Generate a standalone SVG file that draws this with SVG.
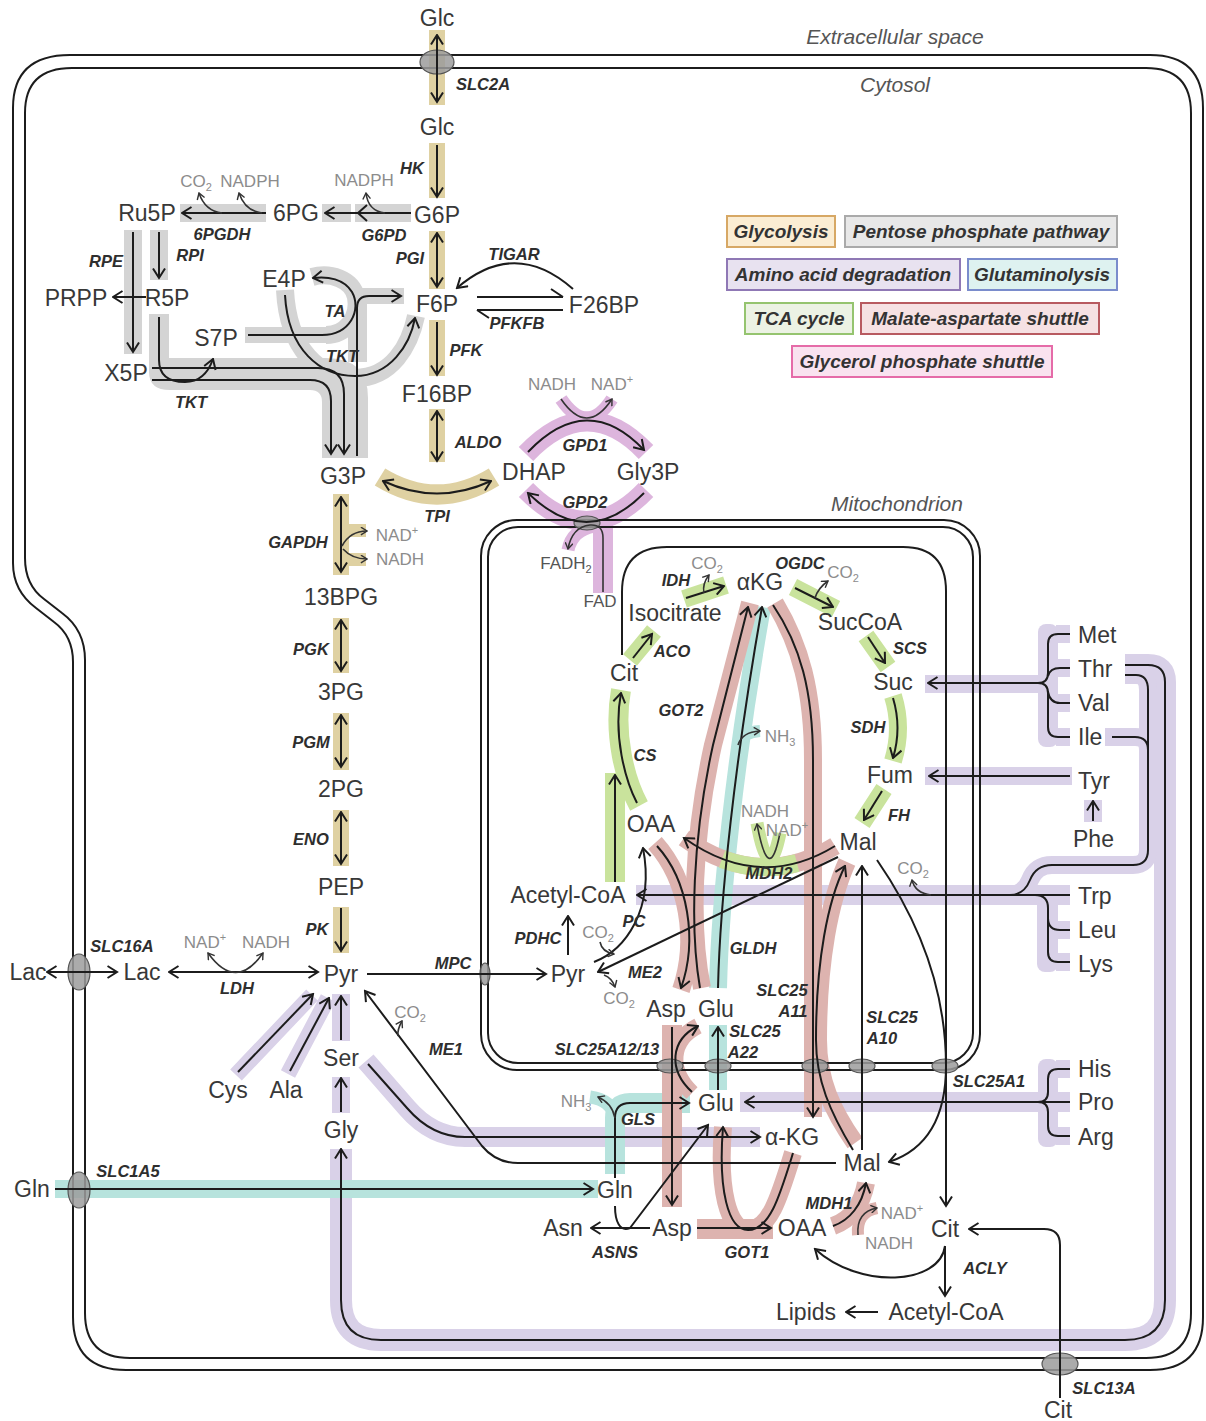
<svg xmlns="http://www.w3.org/2000/svg" width="1206" height="1421" viewBox="0 0 1206 1421">
<defs>
<style>
.m{font-family:"Liberation Sans",Arial,sans-serif;font-size:23px;fill:#383838;text-anchor:middle}
.ms{font-family:"Liberation Sans",Arial,sans-serif;font-size:23px;fill:#383838}
.e{font-family:"Liberation Sans",Arial,sans-serif;font-size:16.5px;font-weight:bold;font-style:italic;fill:#2e2e2e;text-anchor:middle}
.c{font-family:"Liberation Sans",Arial,sans-serif;font-size:17px;fill:#8c8c8c;text-anchor:middle}
.cd{fill:#555}
.l{font-family:"Liberation Sans",Arial,sans-serif;font-size:21px;font-style:italic;fill:#555;text-anchor:middle}
.k{font-family:"Liberation Sans",Arial,sans-serif;font-size:19px;font-weight:bold;font-style:italic;fill:#333;text-anchor:middle}
.sb{font-size:11px}
.ln{fill:none;stroke:#1c1c1c;stroke-width:2}
.f{marker-end:url(#ah)}
.b{marker-start:url(#ah);marker-end:url(#ah)}
.cu{fill:none;stroke:#333;stroke-width:1.6;marker-end:url(#sa)}
.cb{fill:none;stroke:#333;stroke-width:1.6;marker-start:url(#sa);marker-end:url(#sa)}
.bd{fill:none;stroke-linecap:butt;stroke-width:18}
.tan{stroke:#dfd1a2}.gry{stroke:#d4d4d4}.pur{stroke:#d9d1e8}.tea{stroke:#b7e3dd}.grn{stroke:#c9e39c}.pnk{stroke:#ddb3af}.vio{stroke:#ddb5dd}
.ftan{fill:#dfd1a2}.fgry{fill:#d4d4d4}.fpur{fill:#d9d1e8}
.mem{fill:none;stroke:#1c1c1c;stroke-width:2}
.tp{fill:#9c9c9c;fill-opacity:.85;stroke:#555;stroke-width:1.2}
</style>
<marker id="ah" viewBox="0 0 12 14" refX="10.5" refY="7" markerWidth="12" markerHeight="14" markerUnits="userSpaceOnUse" orient="auto-start-reverse">
<path d="M1,1 L10.5,7 L1,13" fill="none" stroke="#1c1c1c" stroke-width="2"/>
</marker>
<marker id="sa" viewBox="0 0 12 14" refX="10.5" refY="7" markerWidth="8" markerHeight="9" markerUnits="userSpaceOnUse" orient="auto-start-reverse">
<path d="M1,1 L10.5,7 L1,13" fill="none" stroke="#333" stroke-width="2.2"/>
</marker>
</defs>
<rect width="1206" height="1421" fill="#fff"/>

<!-- pathway highlight bands -->
<g id="bands">
<!-- glycolysis -->
<path class="bd tan" d="M437,30 V105 M437,143 V198 M437,231 V289 M437,320 V376 M437,409 V462 M341,494 V575 M341,618 V673 M341,713 V770 M341,810 V866 M341,907 V953" style="stroke-width:16"/>
<path class="bd tan" d="M380,477 Q437,512 494,477" style="stroke-width:20"/>
<rect class="ftan" x="349" y="524" width="17" height="13"/>
<rect class="ftan" x="349" y="553" width="17" height="13"/>
<!-- pentose phosphate pathway -->
<path class="bd gry" d="M180,213 H266 M322,213 H351 M355,213 H411 M133,230 V354 M159,230 V280"/>
<path class="bd gry" d="M159,314 V362" style="stroke-width:20"/>
<path class="fgry" d="M149,358 H326 Q368,358 368,398 V458 H322 V402 Q322,390 310,390 H170 Q149,390 149,372 Z"/>
<rect class="fgry" x="348" y="292" width="19" height="70"/>
<path class="bd gry" d="M245,335 H330" style="stroke-width:16"/>
<path class="bd gry" d="M312,277 C330,272 352,279 356,297 C360,318 345,335 326,335"/>
<path class="bd gry" d="M285,290 C288,350 320,378 355,378 C392,378 410,345 416,316"/>
<path class="bd gry" d="M350,296 H404" style="stroke-width:16"/>
<!-- glycerol phosphate shuttle -->
<path class="bd vio" d="M526,454 Q587,390 646,452" style="stroke-width:20"/>
<path class="bd vio" d="M561,399 Q587,437 612,399" style="stroke-width:13"/>
<path class="bd vio" d="M646,490 Q587,552 526,490" style="stroke-width:20"/>
<path class="bd vio" d="M603,593 V520" style="stroke-width:20"/>
<path class="bd vio" d="M594,526 Q572,530 568,550" style="stroke-width:13"/>
<!-- amino acid degradation -->
<path class="bd pur" d="M236,1075 L312,995 M288,1074 L328,998" style="stroke-width:16"/>
<path class="bd pur" d="M341,994 V1041 M341,1077 V1113"/>
<path class="bd pur" d="M366,1061 L407,1108 Q432,1137 465,1137 H760" style="stroke-width:20"/>
<path class="bd pur" d="M341,1149 V1300 Q341,1340 381,1340 H1125 Q1165,1340 1165,1300 V682 Q1165,665 1148,665 H1125" style="stroke-width:22"/>
<path class="bd pur" d="M1125,675 H1136 Q1148,675 1148,690 V850 Q1148,865 1133,865 H1052 Q1036,865 1030,880 Q1024,895 1010,895 M1105,737 H1135 Q1148,737 1148,750"/>
<path class="bd pur" d="M636,895 H1070 M740,1102 H1070" style="stroke-width:20"/>
<path class="bd pur" d="M925,684 H1045 M925,776 H1072"/>
<rect class="fpur" x="1038" y="624" width="20" height="123" rx="8"/>
<rect class="fpur" x="1056" y="625" width="14" height="18"/>
<rect class="fpur" x="1056" y="659" width="14" height="18"/>
<rect class="fpur" x="1056" y="694" width="14" height="18"/>
<rect class="fpur" x="1056" y="728" width="14" height="18"/>
<rect class="fpur" x="1084" y="800" width="18" height="22"/>
<rect class="fpur" x="1037" y="886" width="21" height="86" rx="8"/>
<rect class="fpur" x="1056" y="921" width="14" height="18"/>
<rect class="fpur" x="1056" y="953" width="14" height="18"/>
<rect class="fpur" x="1038" y="1059" width="20" height="88" rx="8"/>
<rect class="fpur" x="1056" y="1060" width="14" height="18"/>
<rect class="fpur" x="1056" y="1127" width="14" height="18"/>
<!-- glutaminolysis -->
<path class="bd tea" d="M55,1189 H598"/>
<path class="bd tea" d="M615,1174 V1118 Q615,1103 630,1103 H690" style="stroke-width:20"/>
<path class="bd tea" d="M615,1118 Q612,1100 590,1097" style="stroke-width:13"/>
<path class="bd tea" d="M718,1090 V1025"/>
<path class="bd tea" d="M718,988 C720,900 735,760 762,607"/>
<path class="bd tea" d="M738,745 Q742,732 760,731" style="stroke-width:12"/>
<!-- malate-aspartate shuttle -->
<path class="bd pnk" d="M702,988 C690,930 692,840 713,745 L750,603"/>
<path class="bd pnk" d="M655,843 C688,880 698,940 681,990"/>
<path class="bd pnk" d="M775,603 C800,645 813,690 813,760 V1117"/>
<path class="bd pnk" d="M855,1143 C832,1110 818,1080 818,1040 C818,960 830,900 847,862"/>
<path class="bd pnk" d="M672,1025 V1207" style="stroke-width:20"/>
<path class="bd pnk" d="M692,1093 C668,1070 670,1040 698,1026" style="stroke-width:16"/>
<path class="bd pnk" d="M697,1229 H773" style="stroke-width:20"/>
<path class="bd pnk" d="M793,1153 C780,1195 770,1230 748,1230 C728,1230 718,1190 723,1127"/>
<path class="bd pnk" d="M833,1226 C850,1220 862,1205 866,1183"/>
<path class="bd pnk" d="M858,1235 Q856,1212 877,1208" style="stroke-width:12"/>
<path class="bd pnk" d="M835,846 Q760,892 684,838"/>
<!-- TCA cycle -->
<path class="bd grn" d="M797,863 Q760,873 722,859"/>
<path class="bd grn" d="M780,833 Q769,888 757,823" style="stroke-width:13"/>
<path class="bd grn" d="M684,599 L726,585 M793,587 L836,609 M866,636 L888,667 M884,789 L862,823 M630,660 L654,631"/>
<path class="bd grn" d="M893,696 Q903,728 893,761"/>
<path class="bd grn" d="M639,806 C625,780 613,735 621,690 M615,773 V882" style="stroke-width:20"/>
</g>

<!-- membranes -->
<g id="membranes">
<path class="mem" d="M70,55 H1150 Q1203,55 1203,108 V1317 Q1203,1370 1150,1370 H126 Q73,1370 73,1317 V662 Q73,636 54,622 L36,608 Q13,591 13,563 V108 Q13,55 70,55 Z"/>
<path class="mem" d="M72,68 H1146 Q1191,68 1191,113 V1313 Q1191,1358 1146,1358 H130 Q85,1358 85,1313 V660 Q85,630 62,613 L44,599 Q25,585 25,558 V113 Q25,68 72,68 Z"/>
<rect class="mem" x="481" y="520" width="499" height="550" rx="36"/>
<rect class="mem" x="488" y="527" width="485" height="536" rx="30"/>
</g>

<!-- transporters -->
<g id="transporters">
<ellipse class="tp" cx="437" cy="62" rx="17" ry="12"/>
<ellipse class="tp" cx="79" cy="972" rx="11" ry="18"/>
<ellipse class="tp" cx="79" cy="1190" rx="11" ry="18"/>
<ellipse class="tp" cx="1060" cy="1364" rx="18" ry="11"/>
<ellipse class="tp" cx="485" cy="974" rx="5" ry="11"/>
<ellipse class="tp" cx="587" cy="523" rx="13" ry="7"/>
<ellipse class="tp" cx="670" cy="1066" rx="13" ry="7"/>
<ellipse class="tp" cx="718" cy="1066" rx="13" ry="7"/>
<ellipse class="tp" cx="815" cy="1066" rx="13" ry="7"/>
<ellipse class="tp" cx="862" cy="1066" rx="13" ry="7"/>
<ellipse class="tp" cx="945" cy="1066" rx="13" ry="7"/>
</g>

<!-- reactions -->
<g id="connectors">
<!-- glycolysis -->
<path class="ln b" d="M437,35 V102"/>
<path class="ln f" d="M437,145 V197"/>
<path class="ln b" d="M437,233 V287"/>
<path class="ln f" d="M437,322 V375"/>
<path class="ln b" d="M437,411 V461"/>
<path class="ln b" d="M383,481 Q437,506 491,481"/>
<path class="ln b" d="M341,497 V572"/>
<path class="cu" d="M342,546 Q350,531 367,531"/>
<path class="cu" d="M343,549 Q352,559 367,559"/>
<path class="ln b" d="M341,620 V671"/>
<path class="ln b" d="M341,715 V767"/>
<path class="ln b" d="M341,812 V864"/>
<path class="ln f" d="M341,908 V951"/>
<!-- pentose phosphate pathway -->
<path class="ln f" d="M266,213 H182"/>
<path class="cu" d="M222,213 Q205,211 199,193"/>
<path class="cu" d="M262,213 Q245,211 239,193"/>
<path class="ln f" d="M411,213 H325"/>
<path class="ln" d="M367,205 L358,213 L367,221"/>
<path class="cu" d="M385,213 Q368,211 366,193"/>
<path class="ln f" d="M133,232 V352"/>
<path class="ln f" d="M159,232 V278"/>
<path class="ln f" d="M146,297 H113"/>
<path class="ln f" d="M159,317 V360 Q159,382 185,382 Q205,382 213,359"/>
<path class="ln f" d="M152,368 H318 Q344,368 344,394 V454"/>
<path class="ln f" d="M152,380 H310 Q331,380 331,401 V454"/>
<path class="ln f" d="M357,456 V308 Q357,296 369,296 H401"/>
<path class="ln f" d="M248,335 H322 C350,335 362,310 352,292 C344,279 328,276 313,278"/>
<path class="ln f" d="M285,295 C288,350 320,376 355,376 C390,376 410,345 415,318"/>
<path class="ln f" d="M573,289 Q515,238 457,288"/>
<path class="ln" d="M477,297 H563 M563,297 L551,289 M563,310 H477 M477,310 L489,318"/>
<!-- glycerol phosphate shuttle -->
<path class="ln f" d="M528,452 Q587,390 644,450"/>
<path class="cu" d="M561,399 Q587,437 612,399"/>
<path class="ln f" d="M644,493 Q587,551 528,493"/>
<path class="cu" d="M603,592 V538 Q603,524 590,525 Q572,527 568,549"/>
<!-- lactate, pyruvate -->
<path class="ln b" d="M47,972 H117"/>
<path class="ln b" d="M169,972 H318"/>
<path class="cb" d="M208,953 Q236,992 263,953"/>
<path class="ln f" d="M367,974 H546"/>
<path class="ln f" d="M238,1072 L313,994"/>
<path class="ln f" d="M290,1071 L329,998"/>
<path class="ln f" d="M341,1040 V996"/>
<path class="ln f" d="M341,1112 V1078"/>
<path class="ln f" d="M368,1064 L407,1108 Q432,1137 465,1137 H760"/>
<path class="ln f" d="M836,1163 H518 Q496,1163 482,1146 L365,991"/>
<path class="cu" d="M398,1036 Q397,1030 402,1021"/>
<path class="ln f" d="M55,1189 H593"/>
<path class="ln f" d="M1125,665 H1148 Q1165,665 1165,682 V1300 Q1165,1340 1125,1340 H381 Q341,1340 341,1300 V1149"/>
<!-- TCA cycle -->
<path class="ln f" d="M622,655 V592 Q622,547 667,547 H903 Q946,547 946,591 V1206"/>
<path class="ln f" d="M633,658 L652,634"/>
<path class="ln f" d="M686,598 L724,586"/>
<path class="cu" d="M704,593 Q702,584 709,575"/>
<path class="ln f" d="M795,588 L833,607"/>
<path class="cu" d="M815,598 Q818,588 828,581"/>
<path class="ln f" d="M868,637 L885,663"/>
<path class="ln f" d="M893,698 Q902,728 893,758"/>
<path class="ln f" d="M882,791 L864,820"/>
<path class="ln f" d="M835,846 Q760,892 684,838"/>
<path class="cu" d="M780,833 Q769,888 757,824"/>
<path class="ln f" d="M637,803 C625,780 613,735 621,693"/>
<path class="ln f" d="M615,882 V775"/>
<path class="ln f" d="M568,955 V916"/>
<path class="ln f" d="M594,962 C625,950 655,910 643,848"/>
<path class="cu" d="M600,942 Q602,952 614,954"/>
<path class="ln f" d="M838,857 L598,972"/>
<path class="cu" d="M604,975 Q612,978 615,987"/>
<!-- malate-aspartate shuttle, glutamate -->
<path class="ln f" d="M700,988 C690,930 692,840 713,745 L748,607"/>
<path class="ln f" d="M657,846 C688,880 698,940 681,988"/>
<path class="ln f" d="M718,988 C720,900 735,760 762,607"/>
<path class="cu" d="M738,745 Q742,732 760,731"/>
<path class="ln f" d="M773,605 C800,645 813,690 813,760 V1117"/>
<path class="ln f" d="M853,1150 C830,1112 816,1080 816,1040 C816,960 828,900 845,866"/>
<path class="ln f" d="M862,1150 V866"/>
<path class="ln f" d="M877,860 C915,915 946,985 946,1066 C946,1120 925,1150 889,1162"/>
<path class="ln f" d="M672,1027 V1205"/>
<path class="ln f" d="M692,1092 C668,1070 670,1040 698,1026"/>
<path class="ln f" d="M718,1090 V1027"/>
<path class="ln f" d="M615,1178 V1118 Q615,1103 630,1103 H689"/>
<path class="cu" d="M615,1118 Q612,1103 598,1097"/>
<path class="ln f" d="M650,1228 H591"/>
<path class="ln f" d="M615,1206 C615,1222 620,1232 630,1228 L708,1125"/>
<path class="ln f" d="M697,1228 H771"/>
<path class="ln f" d="M793,1153 C780,1195 770,1230 748,1230 C728,1230 718,1190 723,1127"/>
<path class="ln f" d="M833,1226 C850,1220 862,1205 866,1183"/>
<path class="cu" d="M858,1235 Q856,1212 877,1208"/>
<path class="ln f" d="M945,1246 C940,1285 860,1290 815,1249"/>
<path class="ln f" d="M945,1246 V1296"/>
<path class="ln f" d="M878,1312 H846"/>
<path class="ln f" d="M1060,1398 V1245 Q1060,1229 1044,1229 H969"/>
<!-- amino acid inputs -->
<path class="ln" d="M1125,675 H1136 Q1148,675 1148,690 V850 Q1148,865 1133,865 H1052 Q1036,865 1030,880 Q1024,895 1010,895"/>
<path class="ln" d="M1112,737 H1135 Q1148,737 1148,750"/>
<path class="ln f" d="M1070,895 H637"/>
<path class="cu" d="M931,895 Q915,893 912,880"/>
<path class="ln" d="M1035,895 Q1048,895 1048,908 V952 Q1048,962 1058,962 H1070 M1048,918 Q1048,930 1060,930 H1070"/>
<path class="ln f" d="M1040,683 H928"/>
<path class="ln" d="M1070,634 H1058 Q1048,634 1048,644 V673 Q1048,683 1038,683 Q1048,683 1048,693 V727 Q1048,737 1058,737 H1070 M1048,676 Q1050,668 1060,668 H1070 M1048,692 Q1050,703 1060,703 H1070"/>
<path class="ln f" d="M1070,776 H929"/>
<path class="ln f" d="M1093,821 V801"/>
<path class="ln f" d="M1070,1102 H745"/>
<path class="ln" d="M1070,1069 H1058 Q1048,1069 1048,1079 V1092 Q1048,1102 1038,1102 Q1048,1102 1048,1112 V1126 Q1048,1136 1058,1136 H1070"/>
</g>

<!-- compartment labels -->
<g id="compartments">
<text class="l" x="895" y="44">Extracellular space</text>
<text class="l" x="895" y="92">Cytosol</text>
<text class="l" x="897" y="511">Mitochondrion</text>
</g>

<!-- metabolites -->
<g id="metabolites">
<g id="glc-out"><text class="m" x="437" y="26">Glc</text></g>
<g id="glc"><text class="m" x="437" y="135">Glc</text></g>
<g id="g6p"><text class="m" x="437" y="223">G6P</text></g>
<g id="pg6"><text class="m" x="296" y="221">6PG</text></g>
<g id="ru5p"><text class="m" x="147" y="221">Ru5P</text></g>
<g id="prpp"><text class="m" x="76" y="306">PRPP</text></g>
<g id="r5p"><text class="m" x="167" y="306">R5P</text></g>
<g id="x5p"><text class="m" x="126" y="381">X5P</text></g>
<g id="s7p"><text class="m" x="216" y="346">S7P</text></g>
<g id="e4p"><text class="m" x="284" y="287">E4P</text></g>
<g id="f6p"><text class="m" x="437" y="312">F6P</text></g>
<g id="f26bp"><text class="m" x="604" y="313">F26BP</text></g>
<g id="f16bp"><text class="m" x="437" y="402">F16BP</text></g>
<g id="g3p"><text class="m" x="343" y="484">G3P</text></g>
<g id="dhap"><text class="m" x="534" y="480">DHAP</text></g>
<g id="gly3p"><text class="m" x="648" y="480">Gly3P</text></g>
<g id="bpg13"><text class="m" x="341" y="605">13BPG</text></g>
<g id="pg3"><text class="m" x="341" y="700">3PG</text></g>
<g id="pg2"><text class="m" x="341" y="797">2PG</text></g>
<g id="pep"><text class="m" x="341" y="895">PEP</text></g>
<g id="pyr"><text class="m" x="341" y="982">Pyr</text></g>
<g id="lac-out"><text class="m" x="28" y="980">Lac</text></g>
<g id="lac"><text class="m" x="142" y="980">Lac</text></g>
<g id="cys"><text class="m" x="228" y="1098">Cys</text></g>
<g id="ala"><text class="m" x="286" y="1098">Ala</text></g>
<g id="ser"><text class="m" x="341" y="1066">Ser</text></g>
<g id="gly"><text class="m" x="341" y="1138">Gly</text></g>
<g id="gln-out"><text class="m" x="32" y="1197">Gln</text></g>
<g id="gln"><text class="m" x="615" y="1198">Gln</text></g>
<g id="icit"><text class="m" x="675" y="621">Isocitrate</text></g>
<g id="akg-m"><text class="m" x="760" y="590">αKG</text></g>
<g id="succoa"><text class="m" x="860" y="630">SucCoA</text></g>
<g id="cit-m"><text class="m" x="624" y="681">Cit</text></g>
<g id="suc"><text class="m" x="893" y="690">Suc</text></g>
<g id="fum"><text class="m" x="890" y="783">Fum</text></g>
<g id="oaa-m"><text class="m" x="651" y="832">OAA</text></g>
<g id="mal-m"><text class="m" x="858" y="850">Mal</text></g>
<g id="accoa-m"><text class="m" x="568" y="903">Acetyl-CoA</text></g>
<g id="pyr-m"><text class="m" x="568" y="982">Pyr</text></g>
<g id="asp-m"><text class="m" x="666" y="1017">Asp</text></g>
<g id="glu-m"><text class="m" x="716" y="1017">Glu</text></g>
<g id="glu"><text class="m" x="716" y="1111">Glu</text></g>
<g id="akg"><text class="m" x="792" y="1145">α-KG</text></g>
<g id="mal"><text class="m" x="862" y="1171">Mal</text></g>
<g id="asn"><text class="m" x="563" y="1236">Asn</text></g>
<g id="asp"><text class="m" x="672" y="1236">Asp</text></g>
<g id="oaa"><text class="m" x="802" y="1236">OAA</text></g>
<g id="cit"><text class="m" x="945" y="1237">Cit</text></g>
<g id="lipids"><text class="m" x="806" y="1320">Lipids</text></g>
<g id="accoa"><text class="m" x="946" y="1320">Acetyl-CoA</text></g>
<g id="cit-out"><text class="m" x="1058" y="1418">Cit</text></g>
<g id="met"><text class="ms" x="1078" y="643">Met</text></g>
<g id="thr"><text class="ms" x="1078" y="677">Thr</text></g>
<g id="val"><text class="ms" x="1078" y="711">Val</text></g>
<g id="ile"><text class="ms" x="1078" y="745">Ile</text></g>
<g id="tyr"><text class="ms" x="1078" y="789">Tyr</text></g>
<g id="phe"><text class="ms" x="1073" y="847">Phe</text></g>
<g id="trp"><text class="ms" x="1078" y="904">Trp</text></g>
<g id="leu"><text class="ms" x="1078" y="938">Leu</text></g>
<g id="lys"><text class="ms" x="1078" y="972">Lys</text></g>
<g id="his"><text class="ms" x="1078" y="1077">His</text></g>
<g id="pro"><text class="ms" x="1078" y="1110">Pro</text></g>
<g id="arg"><text class="ms" x="1078" y="1145">Arg</text></g>
</g>

<!-- enzymes and transporters -->
<g id="enzymes">
<text class="e" x="483" y="90">SLC2A</text>
<text class="e" x="412" y="174">HK</text>
<text class="e" x="384" y="241">G6PD</text>
<text class="e" x="222" y="240">6PGDH</text>
<text class="e" x="106" y="267">RPE</text>
<text class="e" x="190" y="261">RPI</text>
<text class="e" x="410" y="264">PGI</text>
<text class="e" x="514" y="260">TIGAR</text>
<text class="e" x="517" y="329">PFKFB</text>
<text class="e" x="335" y="317">TA</text>
<text class="e" x="342" y="362">TKT</text>
<text class="e" x="191" y="408">TKT</text>
<text class="e" x="466" y="356">PFK</text>
<text class="e" x="478" y="448">ALDO</text>
<text class="e" x="437" y="522">TPI</text>
<text class="e" x="585" y="451">GPD1</text>
<text class="e" x="585" y="508">GPD2</text>
<text class="e" x="298" y="548">GAPDH</text>
<text class="e" x="311" y="655">PGK</text>
<text class="e" x="311" y="748">PGM</text>
<text class="e" x="311" y="845">ENO</text>
<text class="e" x="317" y="935">PK</text>
<text class="e" x="122" y="952">SLC16A</text>
<text class="e" x="237" y="994">LDH</text>
<text class="e" x="453" y="969">MPC</text>
<text class="e" x="446" y="1055">ME1</text>
<text class="e" x="128" y="1177">SLC1A5</text>
<text class="e" x="676" y="586">IDH</text>
<text class="e" x="800" y="569">OGDC</text>
<text class="e" x="672" y="657">ACO</text>
<text class="e" x="910" y="654">SCS</text>
<text class="e" x="681" y="716">GOT2</text>
<text class="e" x="868" y="733">SDH</text>
<text class="e" x="645" y="761">CS</text>
<text class="e" x="899" y="821">FH</text>
<text class="e" x="769" y="879">MDH2</text>
<text class="e" x="538" y="944">PDHC</text>
<text class="e" x="634" y="927">PC</text>
<text class="e" x="753" y="954">GLDH</text>
<text class="e" x="645" y="978">ME2</text>
<text class="e" x="782" y="996">SLC25</text>
<text class="e" x="793" y="1017">A11</text>
<text class="e" x="892" y="1023">SLC25</text>
<text class="e" x="882" y="1044">A10</text>
<text class="e" x="607" y="1055">SLC25A12/13</text>
<text class="e" x="755" y="1037">SLC25</text>
<text class="e" x="743" y="1058">A22</text>
<text class="e" x="989" y="1087">SLC25A1</text>
<text class="e" x="638" y="1125">GLS</text>
<text class="e" x="615" y="1258">ASNS</text>
<text class="e" x="747" y="1258">GOT1</text>
<text class="e" x="829" y="1209">MDH1</text>
<text class="e" x="985" y="1274">ACLY</text>
<text class="e" x="1104" y="1394">SLC13A</text>
</g>

<!-- cofactors -->
<g id="cofactors">
<text class="c" x="196" y="187">CO<tspan class="sb" dy="4">2</tspan></text>
<text class="c" x="250" y="187">NADPH</text>
<text class="c" x="364" y="186">NADPH</text>
<text class="c" x="552" y="390">NADH</text>
<text class="c" x="612" y="390">NAD<tspan class="sb" dy="-7">+</tspan></text>
<text class="c" x="397" y="541">NAD<tspan class="sb" dy="-7">+</tspan></text>
<text class="c" x="400" y="565">NADH</text>
<text class="c cd" x="566" y="569">FADH<tspan class="sb" dy="4">2</tspan></text>
<text class="c cd" x="600" y="607">FAD</text>
<text class="c" x="205" y="948">NAD<tspan class="sb" dy="-7">+</tspan></text>
<text class="c" x="266" y="948">NADH</text>
<text class="c" x="410" y="1018">CO<tspan class="sb" dy="4">2</tspan></text>
<text class="c" x="707" y="569">CO<tspan class="sb" dy="4">2</tspan></text>
<text class="c" x="843" y="578">CO<tspan class="sb" dy="4">2</tspan></text>
<text class="c" x="780" y="742">NH<tspan class="sb" dy="4">3</tspan></text>
<text class="c" x="765" y="817">NADH</text>
<text class="c" x="787" y="836">NAD<tspan class="sb" dy="-7">+</tspan></text>
<text class="c" x="913" y="874">CO<tspan class="sb" dy="4">2</tspan></text>
<text class="c" x="598" y="938">CO<tspan class="sb" dy="4">2</tspan></text>
<text class="c" x="619" y="1004">CO<tspan class="sb" dy="4">2</tspan></text>
<text class="c" x="576" y="1107">NH<tspan class="sb" dy="4">3</tspan></text>
<text class="c" x="902" y="1219">NAD<tspan class="sb" dy="-7">+</tspan></text>
<text class="c" x="889" y="1249">NADH</text>
</g>

<!-- pathway key -->
<g id="legend">
<g id="key-glycolysis"><rect x="727" y="216" width="108" height="31" fill="#fbedd3" stroke="#d7a865" stroke-width="2"/><text class="k" x="781" y="238">Glycolysis</text></g>
<g id="key-ppp"><rect x="845" y="216" width="272" height="31" fill="#e8e8e8" stroke="#aaa" stroke-width="2"/><text class="k" x="981" y="238">Pentose phosphate pathway</text></g>
<g id="key-aa"><rect x="727" y="259" width="233" height="31" fill="#e8e2f0" stroke="#8f78b5" stroke-width="2"/><text class="k" x="843" y="281">Amino acid degradation</text></g>
<g id="key-gln"><rect x="968" y="259" width="149" height="31" fill="#def2f0" stroke="#7a8ccc" stroke-width="2"/><text class="k" x="1042" y="281">Glutaminolysis</text></g>
<g id="key-tca"><rect x="745" y="303" width="108" height="31" fill="#ecf2e4" stroke="#95c46f" stroke-width="2"/><text class="k" x="799" y="325">TCA cycle</text></g>
<g id="key-mas"><rect x="861" y="303" width="238" height="31" fill="#f6e1e3" stroke="#b85a60" stroke-width="2"/><text class="k" x="980" y="325">Malate-aspartate shuttle</text></g>
<g id="key-gps"><rect x="792" y="346" width="260" height="31" fill="#f9e2ef" stroke="#e56ba8" stroke-width="2"/><text class="k" x="922" y="368">Glycerol phosphate shuttle</text></g>
</g>
</svg>
